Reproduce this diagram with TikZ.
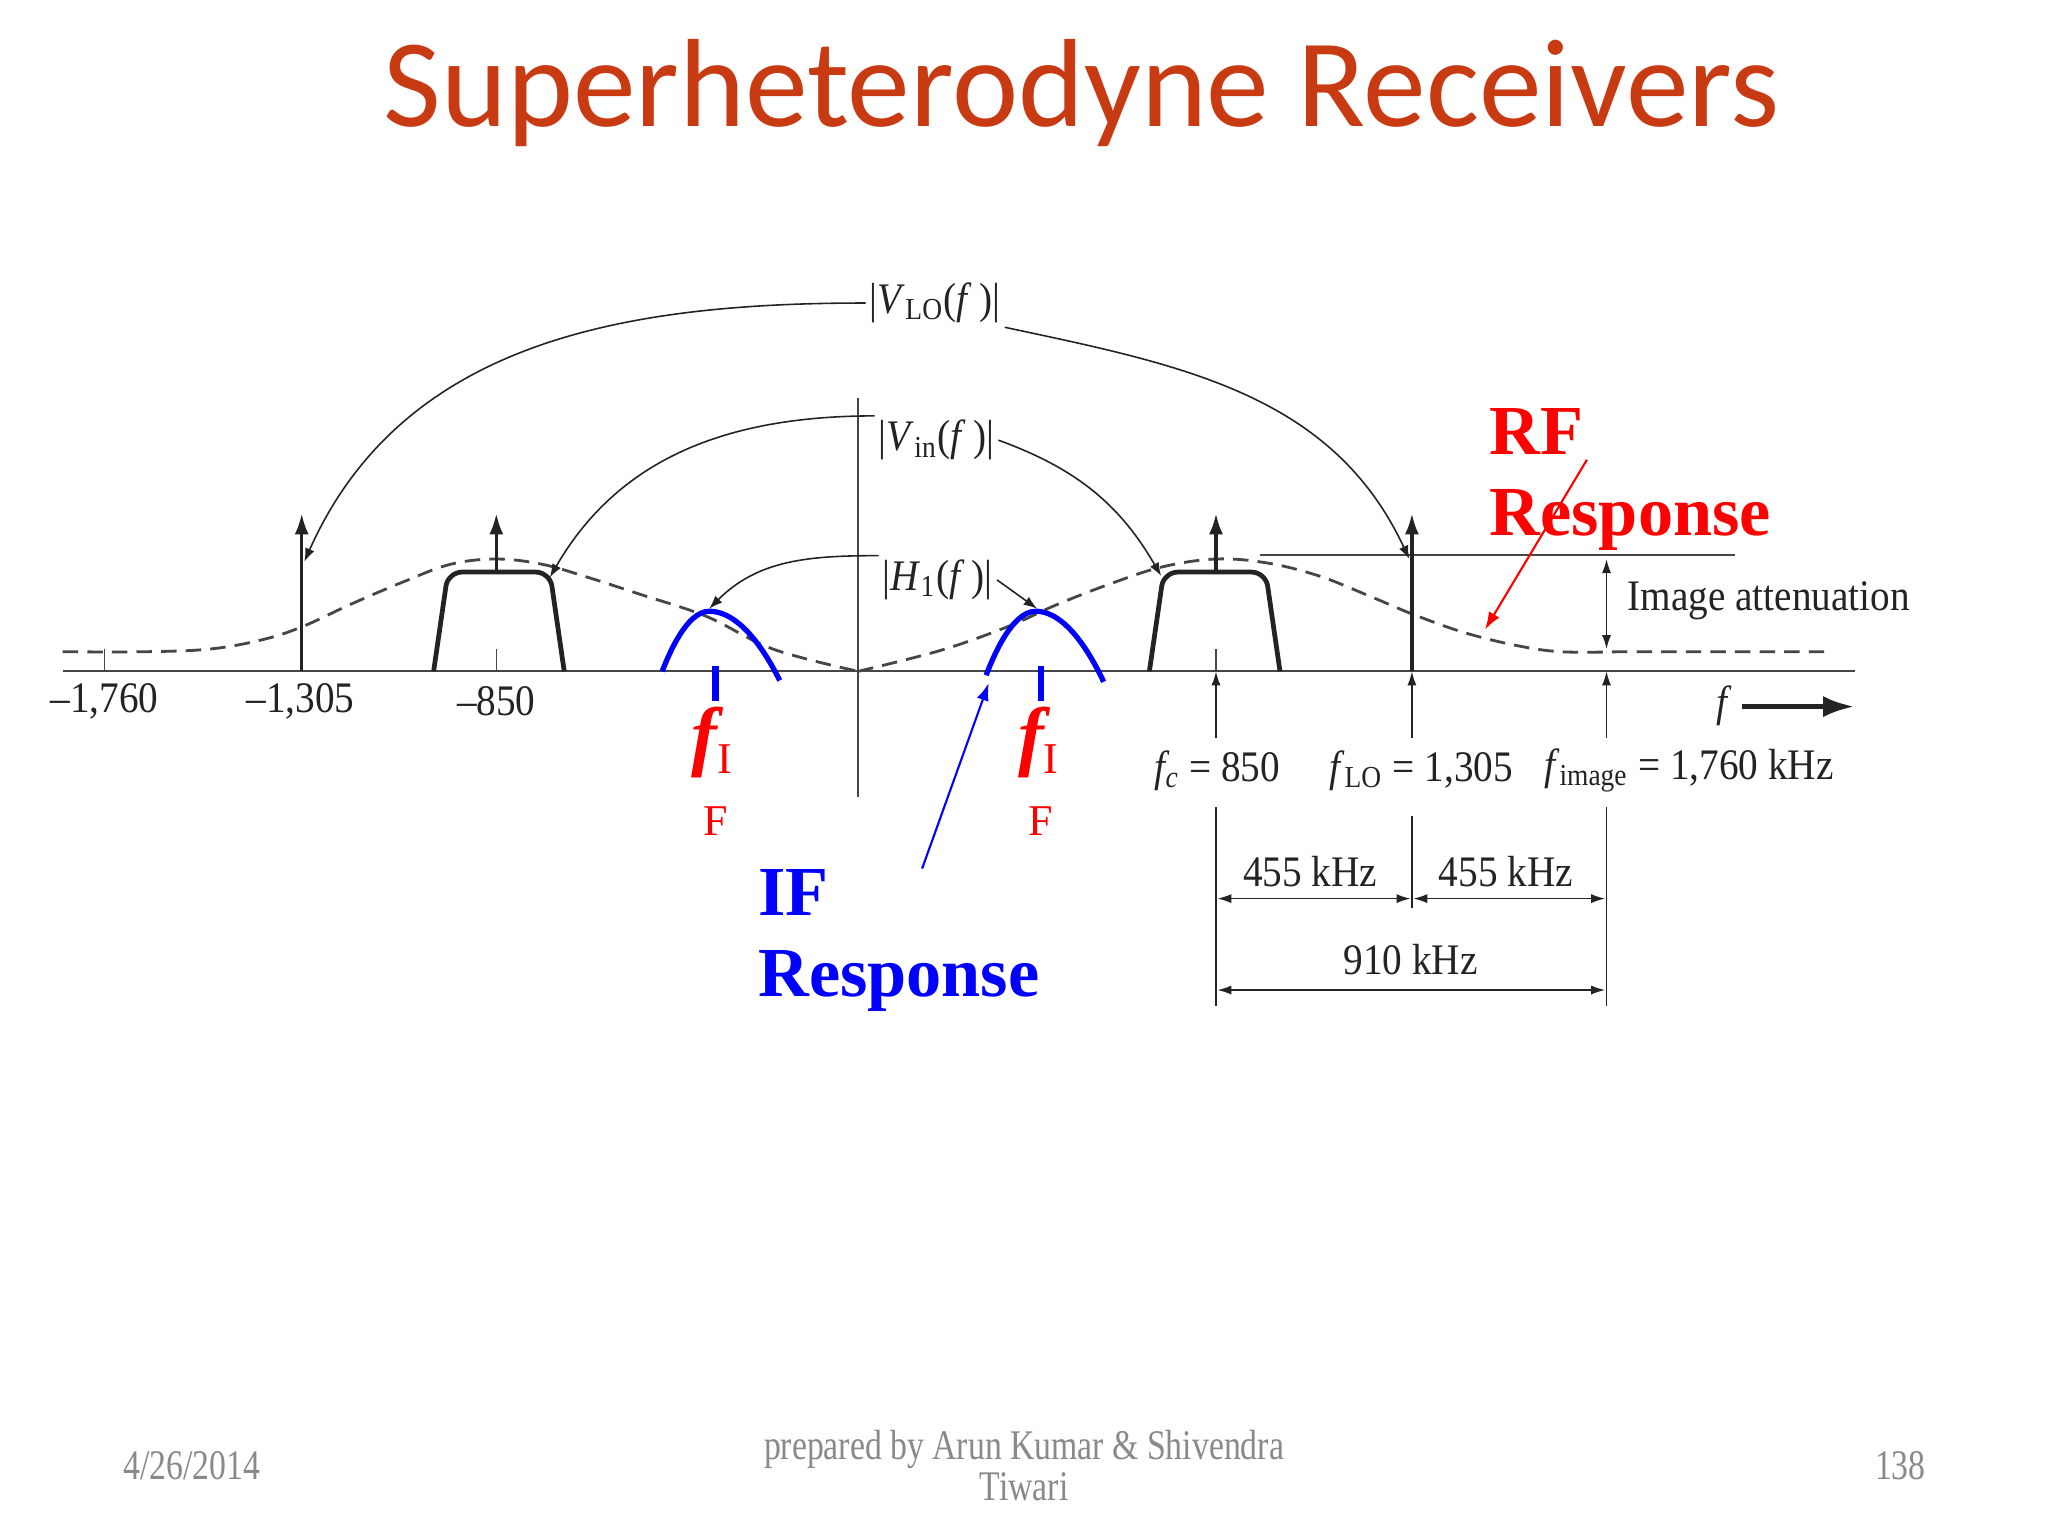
\documentclass[tikz,border=0pt]{standalone}
\usepackage{fontspec}
\setmainfont{Liberation Serif}
\newfontfamily\titlefont{Carlito}
\newfontfamily\figfont[FakeStretch=0.9]{Liberation Serif}
\newfontfamily\footfont[FakeStretch=0.8]{Liberation Serif}
\usetikzlibrary{arrows.meta}
\definecolor{rust}{RGB}{200,58,18}
\definecolor{ink}{RGB}{35,35,35}
\definecolor{graphite}{RGB}{70,70,70}
\definecolor{slate}{RGB}{137,137,137}
\tikzset{
  axis/.style={graphite,line width=0.65pt},
  spike/.style={-{Latex[length=6pt,width=4pt]},ink,line width=0.95pt},
  band/.style={ink,line width=1.35pt,rounded corners=4pt},
  rfcurve/.style={graphite,line width=0.8pt,dash pattern=on 4.4pt off 2.6pt},
  ifcurve/.style={blue,line width=1.5pt},
  iftick/.style={blue,line width=1.9pt},
  callout/.style={-{Latex[length=3.8pt,width=2.8pt]},ink,line width=0.45pt},
  marker/.style={-{Latex[length=4pt,width=2.6pt]},ink,line width=0.45pt},
  dimline/.style={{Latex[length=4pt,width=2.6pt]}-{Latex[length=4pt,width=2.6pt]},ink,line width=0.5pt},
  guide/.style={ink,line width=0.45pt},
  lbl/.style={font=\figfont\fontsize{12.4}{14}\selectfont,text=ink,inner sep=1pt},
  note/.style={font=\bfseries\fontsize{20}{23}\selectfont,align=left,inner sep=0pt,anchor=north west},
  fsym/.style={text=red,inner sep=0pt,anchor=base,font=\bfseries\itshape\fontsize{22}{24}\selectfont},
  fsub/.style={text=red,inner sep=0pt,anchor=base,font=\fontsize{12.5}{14}\selectfont},
  foot/.style={font=\footfont\fontsize{12}{11.5}\selectfont,text=slate,align=center},
}
\newcommand\subIF{\raisebox{-3.4pt}{\fontsize{12.5}{14}\selectfont\mdseries\upshape I}}

\begin{document}
\begin{tikzpicture}[x=0.0130612cm,y=-0.0130612cm]
  \fill[white] (0,0) rectangle (1568,1176);
  \useasboundingbox (0,0) rectangle (1568,1176);
  \node[font=\titlefont\fontsize{35.7}{40}\selectfont,text=rust,anchor=base] (title) at (828,97) {Superheterodyne Receivers};

  % frequency axis
  \draw[axis] (48,514) -- (1420,514);
  \draw[axis] (657,305) -- (657,610);
  \foreach \x in {80,380,931} \draw[graphite,line width=0.4pt] (\x,497) -- (\x,514);
  \node[lbl] (m1760) at (80,537) {–1,760};
  \node[lbl] (m1305) at (230,537) {–1,305};
  \node[lbl] (m850) at (380,537) {–850};

  % RF response
  \draw[rfcurve] plot[smooth,tension=0.6] coordinates {(48,499) (110,499) (160,497) (200,490) (231,480)
    (270,462) (310,445) (345,432) (380,428) (415,432) (450,442) (490,455) (541,472) (592,497) (657,514)};
  \draw[rfcurve] plot[smooth,tension=0.6] coordinates {(657,514) (720,498) (771,480) (809,463) (850,447)
    (890,434) (931,428) (970,431) (1010,441) (1050,457) (1081,470) (1120,484) (1160,494) (1195,499) (1240,499)}
    -- (1400,499);
  \draw[graphite,line width=0.6pt] (965,425) -- (1328,425);
  \draw[dimline] (1230,428) -- (1230,497);
  \node[lbl,anchor=west] (imatt) at (1243,460) {Image attenuation};

  % signal and oscillator
  \draw[band] (332,514) -- (343,438) -- (421,438) -- (432,514);
  \draw[band] (880,514) -- (891,438) -- (969,438) -- (980,514);
  \draw[spike] (231,514) -- (231,393); \draw[spike] (1081,514) -- (1081,393);
  \draw[spike] (380,438) -- (380,393); \draw[spike] (931,438) -- (931,393);

  % IF response
  \draw[ifcurve] (507,514) parabola bend (543,468) (597,521);
  \draw[ifcurve] (755,517) parabola bend (793,468) (845,522);
  \draw[iftick] (548,510) -- (548,537); \draw[iftick] (797,510) -- (797,537);
  \node[fsym] (fiL) at (545,583) {f\subIF};
  \node[fsym] (fiR) at (795,583) {f\subIF};
  \node[fsub] (fFL) at (548,640) {F};
  \node[fsub] (fFR) at (797,640) {F};

  % spectrum labels
  \node[lbl] (vlo) at (716,232) {|\textit{V}\textsubscript{LO}(\textit{f}\,)|};
  \node[lbl] (vin) at (717,337) {|\textit{V}\textsubscript{in}(\textit{f}\,)|};
  \node[lbl] (hone) at (718,444) {|\textit{H}\textsubscript{1}(\textit{f}\,)|};
  \coordinate (loL) at (233,430); \coordinate (loR) at (1079,428);
  \coordinate (inL) at (421,442); \coordinate (inR) at (889,441);
  \coordinate (hL) at (543,466);  \coordinate (hR) at (794,466);
  \draw[callout] (vlo.west) to[out=180,in=66] (loL);
  \draw[callout] (vlo.south east) to[out=-12,in=115] (loR);
  \draw[callout] (vin.north west) to[out=180,in=60] (inL);
  \draw[callout] (vin.east) to[out=-20,in=120] (inR);
  \draw[callout] (hone.north west) to[out=180,in=45] (hL);
  \draw[callout] (hone.east) -- (hR);

  % frequencies below axis
  \coordinate (fc) at (931,514); \coordinate (flo) at (1081,514); \coordinate (fim) at (1230,514);
  \node[lbl] (fclbl) at (932,590) {\textit{f\textsubscript{c}} = 850};
  \node[lbl] (flolbl) at (1088,590) {\textit{f}\textsubscript{LO} = 1,305};
  \node[lbl] (fimlbl) at (1293,590) {\textit{f}\textsubscript{image} = 1,760 kHz};
  \draw[marker] (931,565) -- (fc); \draw[marker] (1081,565) -- (flo); \draw[marker] (1230,565) -- (fim);
  \draw[guide] (931,618) -- (931,770); \draw[guide] (1081,625) -- (1081,695); \draw[guide] (1230,618) -- (1230,770);
  \draw[dimline] (932,688) -- (1080,688); \draw[dimline] (1082,688) -- (1229,688);
  \draw[dimline] (932,758) -- (1229,758);
  \node[lbl] (dA) at (1003,667) {455 kHz};
  \node[lbl] (dB) at (1153,667) {455 kHz};
  \node[lbl] (dC) at (1080,735) {910 kHz};
  \node[lbl] (faxis) at (1320,540) {\textit{f}};
  \coordinate (fend) at (1420,541);
  \draw[-{Latex[length=9pt,width=6pt]},ink,line width=1.5pt] (1334,541) -- (fend);

  % annotations
  \node[note,text=red] (rfnote) at (1140,312) {RF\\Response};
  \coordinate (rftail) at (1215,352); \coordinate (rftip) at (1137,482);
  \draw[-{Latex[length=5pt,width=3.5pt]},red,line width=0.6pt] (rftail) -- (rftip);
  \node[note,text=blue] (ifnote) at (580,665) {IF\\Response};
  \coordinate (iftail) at (706,665); \coordinate (iftip) at (757,523);
  \draw[-{Latex[length=5pt,width=3.5pt]},blue,line width=0.6pt] (iftail) -- (iftip);

  % footer
  \node[foot] (date) at (147,1122) {4/26/2014};
  \node[foot] (author) at (784,1122) {prepared by Arun Kumar \& Shivendra\\Tiwari};
  \node[foot] (page) at (1455,1122) {138};
\end{tikzpicture}
\end{document}
